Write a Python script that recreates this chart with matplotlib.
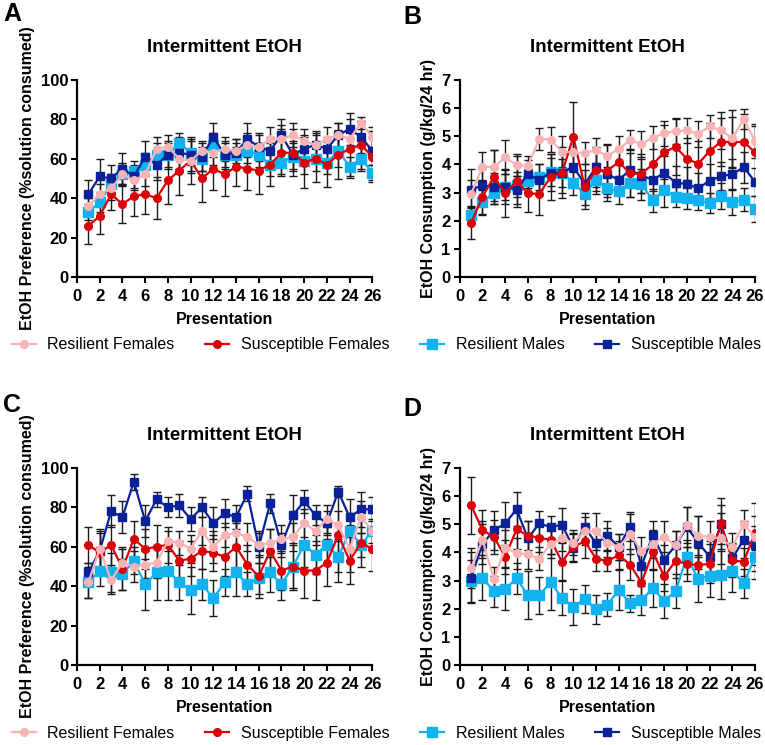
import matplotlib
matplotlib.use("Agg")
import matplotlib.pyplot as plt
from matplotlib.lines import Line2D

plt.rcParams['font.family'] = ['Liberation Sans', 'DejaVu Sans']

presentation = list(range(1, 27))
groups = ['Resilient Females', 'Susceptible Females', 'Resilient Males', 'Susceptible Males']

# Panel A - preference
a_res_f = [36, 42, 45, 52, 49, 52, 65, 66, 60, 59, 64, 63, 65, 64, 67, 66, 70, 70, 72, 69, 67, 70, 72, 70, 78, 71]
a_sus_f = [26, 31, 42, 37, 41, 42, 40, 49, 54, 59, 50, 55, 52, 56, 55, 54, 57, 63, 63, 58, 60, 57, 62, 65, 67, 61]
a_res_m = [33, 38, 47, 52, 54, 57, 62, 62, 68, 63, 60, 67, 62, 62, 64, 62, 57, 58, 61, 59, 60, 58, 64, 56, 60, 53]
a_sus_m = [42, 51, 50, 55, 51, 61, 57, 62, 63, 62, 61, 71, 62, 63, 70, 66, 64, 72, 62, 65, 67, 65, 72, 75, 71, 64]
a_res_f_err = [4, 5, 6, 6, 5, 6, 6, 6, 6, 6, 5, 6, 6, 6, 6, 6, 6, 7, 6, 6, 6, 6, 6, 6, 3, 5]
a_sus_f_err = [9, 9, 8, 9.5, 10, 10, 10.5, 12, 12.5, 12, 12, 11, 11, 10, 11, 12, 11, 12, 12, 13, 12, 11.5, 12.5, 15, 12, 13]
a_res_m_err = [4, 5, 5, 5, 5, 6, 6, 6, 5, 6, 6, 6, 6, 6, 6, 6, 6, 6, 7, 7, 6, 6, 8, 5, 6, 4]
a_sus_m_err = [7, 9, 7, 8, 6, 8, 8, 7, 8, 8, 7, 7, 7, 7, 8, 7, 7, 8, 7, 7, 7, 6, 6, 8, 8, 7]

# Panel B - consumption
b_res_f = [2.95, 3.92, 3.9, 4.25, 3.98, 3.95, 4.9, 4.88, 4.45, 4.42, 4.4, 4.5, 4.3, 4.55, 4.85, 4.72, 4.95, 5.1, 5.18, 5.2, 5.08, 5.35, 5.2, 4.92, 5.6, 4.82]
b_sus_f = [1.92, 2.85, 3.55, 2.98, 3.4, 2.97, 2.95, 3.55, 3.7, 4.97, 3.2, 3.8, 3.78, 4.08, 3.68, 3.67, 4.0, 4.43, 4.62, 4.2, 4.02, 4.47, 4.8, 4.78, 4.8, 4.42]
b_res_m = [2.22, 2.65, 3.0, 3.2, 3.28, 3.42, 3.55, 3.72, 3.7, 3.35, 2.95, 3.45, 3.15, 3.05, 3.35, 3.3, 2.72, 3.1, 2.85, 2.8, 2.73, 2.62, 2.88, 2.67, 2.75, 2.42]
b_sus_m = [3.1, 3.25, 3.2, 3.2, 3.1, 3.65, 3.45, 3.7, 3.7, 3.92, 3.3, 3.9, 3.65, 3.45, 3.8, 3.6, 3.45, 3.7, 3.35, 3.3, 3.15, 3.42, 3.58, 3.65, 3.9, 3.38]
b_res_f_err = [0.5, 0.5, 0.6, 0.6, 0.4, 0.35, 0.4, 0.45, 0.55, 0.5, 0.4, 0.45, 0.4, 0.45, 0.35, 0.45, 0.4, 0.45, 0.45, 0.45, 0.45, 0.4, 0.65, 1.0, 0.35, 0.6]
b_sus_f_err = [0.58, 0.6, 0.95, 0.85, 0.9, 0.67, 0.75, 0.8, 0.9, 1.25, 0.8, 0.75, 0.95, 0.5, 0.85, 0.7, 0.95, 0.95, 1.0, 0.75, 0.8, 1.0, 0.85, 0.9, 1.0, 0.95]
b_res_m_err = [0.3, 0.45, 0.4, 0.45, 0.45, 0.4, 0.45, 0.5, 0.5, 0.45, 0.4, 0.5, 0.45, 0.45, 0.5, 0.55, 0.4, 0.6, 0.35, 0.4, 0.35, 0.35, 0.45, 0.45, 0.4, 0.45]
b_sus_m_err = [0.75, 0.6, 0.5, 0.6, 0.5, 0.5, 0.55, 0.65, 0.7, 0.55, 0.5, 0.7, 0.7, 0.55, 0.6, 0.6, 0.55, 0.6, 0.6, 0.6, 0.55, 0.6, 0.5, 0.55, 0.55, 0.5]

# Panel C - preference
c_res_f = [42, 59, 43, 52, 50, 51, 52, 63, 62, 59, 68, 60, 66, 67, 65, 61, 62, 64, 65, 72, 68, 74, 71, 59, 75, 68]
c_sus_f = [61, 57, 61, 49, 64, 59, 60, 61, 53, 54, 58, 57, 55, 60, 51, 45, 58, 48, 50, 48, 48, 52, 66, 53, 62, 59]
c_res_m = [42, 48, 47, 46, 53, 41, 47, 48, 42, 38, 41, 34, 42, 47, 41, 44, 47, 41, 50, 61, 56, 61, 55, 68, 61, 68]
c_sus_m = [47, 58, 78, 75, 93, 73, 84, 80, 81, 74, 80, 72, 77, 75, 87, 60, 82, 61, 76, 83, 76, 72, 88, 75, 79, 79]
c_res_f_err = [8, 10, 7, 7, 8, 7, 8, 5, 6, 7, 7, 8, 6, 6, 7, 6, 7, 7, 7, 7, 7, 7, 7, 12, 8, 6]
c_sus_f_err = [9, 10, 10, 11, 9, 10, 11, 9, 10, 9, 9, 9, 10, 12, 10, 11, 11, 10, 11, 14, 15, 12, 24, 12, 12, 11]
c_res_m_err = [8, 8, 10, 8, 7, 13, 14, 15, 9, 12, 8, 9, 7, 12, 6, 8, 10, 8, 12, 11, 10, 9, 8, 9, 6, 9]
c_sus_m_err = [5, 10, 8, 8, 4, 8, 4, 5, 6, 6, 5, 8, 7, 6, 4, 8, 5, 6, 10, 6, 5, 6, 3, 9, 9, 6]

# Panel D - consumption
d_res_f = [3.45, 4.45, 3.05, 4.15, 3.98, 3.93, 3.78, 4.3, 4.5, 4.35, 4.75, 4.75, 4.35, 4.2, 4.65, 4.05, 4.3, 4.55, 4.25, 4.97, 4.6, 4.55, 4.5, 4.2, 5.0, 4.55]
d_sus_f = [5.67, 4.8, 4.55, 3.85, 4.82, 4.6, 4.52, 4.45, 3.67, 4.2, 4.4, 3.78, 3.7, 3.9, 3.57, 2.93, 4.02, 3.15, 3.7, 3.6, 3.55, 3.6, 5.03, 3.72, 3.67, 4.7]
d_res_m = [3.0, 3.1, 2.62, 2.7, 3.08, 2.48, 2.48, 2.95, 2.38, 2.07, 2.35, 1.98, 2.15, 2.67, 2.2, 2.3, 2.73, 2.28, 2.62, 3.85, 3.05, 3.18, 3.2, 3.35, 2.9, 3.85]
d_sus_m = [3.1, 4.3, 4.78, 5.03, 5.53, 4.5, 5.03, 4.9, 4.98, 4.17, 4.9, 4.32, 4.6, 4.2, 4.92, 3.52, 4.62, 3.75, 4.25, 4.9, 4.35, 3.85, 5.0, 3.8, 4.45, 4.25]
d_res_f_err = [0.7, 0.65, 0.45, 0.65, 0.55, 0.5, 0.4, 0.5, 0.45, 0.45, 0.5, 0.65, 0.5, 0.45, 0.7, 0.5, 0.5, 0.55, 0.5, 0.65, 0.7, 0.55, 0.9, 0.5, 0.5, 1.2]
d_sus_f_err = [1.0, 0.7, 0.6, 0.6, 0.7, 0.5, 0.5, 0.5, 0.65, 0.5, 0.6, 0.45, 0.35, 0.5, 0.55, 0.6, 0.6, 0.5, 0.6, 0.6, 0.6, 0.7, 0.9, 0.6, 0.5, 0.6]
d_res_m_err = [0.75, 0.8, 0.55, 0.75, 0.55, 0.85, 0.65, 1.0, 0.6, 0.65, 0.5, 0.5, 0.4, 0.7, 0.3, 0.5, 0.65, 0.6, 0.6, 0.6, 0.8, 0.75, 0.85, 0.75, 0.5, 0.8]
d_sus_m_err = [0.9, 0.7, 0.7, 0.75, 0.6, 0.6, 0.45, 0.4, 0.6, 0.5, 0.5, 0.5, 0.5, 0.45, 0.5, 0.5, 0.5, 0.5, 0.5, 0.7, 0.95, 0.55, 0.7, 0.5, 0.65, 0.7]

colors = {'Resilient Females': '#F8B3B5', 'Susceptible Females': '#DC0008',
          'Resilient Males': '#12B2F0', 'Susceptible Males': '#0A2299'}
markers = {'Resilient Females': ('o', 5.5), 'Susceptible Females': ('o', 5.5),
           'Resilient Males': ('s', 6.5), 'Susceptible Males': ('s', 5.5)}
draw_order = ['Resilient Males', 'Susceptible Males', 'Susceptible Females', 'Resilient Females']


def draw_panel(ax, data, errs, ylim, yticks, ylabel):
    for z, g in enumerate(draw_order):
        ax.errorbar(presentation, data[g], yerr=errs[g], fmt='none', ecolor='#1a1a1a',
                    elinewidth=1.0, capsize=3, capthick=1.0, zorder=2 + z * 0.1)
    for z, g in enumerate(draw_order):
        m, ms = markers[g]
        ax.plot(presentation, data[g], color=colors[g], marker=m, markersize=ms,
                linewidth=1.6, zorder=3 + z)
    ax.set_xlim(0, 26)
    ax.set_ylim(*ylim)
    ax.set_xticks(range(0, 27, 2))
    ax.set_yticks(yticks)
    for s in ['top', 'right']:
        ax.spines[s].set_visible(False)
    for s in ['left', 'bottom']:
        ax.spines[s].set_linewidth(1.6)
    ax.tick_params(width=1.5, length=4.5, labelsize=12)
    ax.tick_params(axis='x', pad=4)
    ax.tick_params(axis='y', pad=2)
    for lab in ax.get_xticklabels() + ax.get_yticklabels():
        lab.set_fontweight('bold')
    ax.set_title('Intermittent EtOH', fontsize=13.5, fontweight='bold', pad=20)
    ax.set_xlabel('Presentation', fontsize=11.5, fontweight='bold', labelpad=6)
    ax.set_ylabel(ylabel, fontsize=11.5, fontweight='bold', labelpad=4)


fig = plt.figure(figsize=(7.65, 7.45), dpi=100)
axA = fig.add_axes([0.1007, 0.628, 0.386, 0.265])
axB = fig.add_axes([0.601, 0.628, 0.386, 0.265])
axC = fig.add_axes([0.1007, 0.107, 0.386, 0.265])
axD = fig.add_axes([0.601, 0.107, 0.386, 0.265])

pref_label = 'EtOH Preference (%solution consumed)'
cons_label = 'EtOH Consumption (g/kg/24 hr)'

draw_panel(axA, dict(zip(groups, [a_res_f, a_sus_f, a_res_m, a_sus_m])),
           dict(zip(groups, [a_res_f_err, a_sus_f_err, a_res_m_err, a_sus_m_err])),
           (0, 100), range(0, 101, 20), pref_label)
draw_panel(axB, dict(zip(groups, [b_res_f, b_sus_f, b_res_m, b_sus_m])),
           dict(zip(groups, [b_res_f_err, b_sus_f_err, b_res_m_err, b_sus_m_err])),
           (0, 7), range(0, 8), cons_label)
draw_panel(axC, dict(zip(groups, [c_res_f, c_sus_f, c_res_m, c_sus_m])),
           dict(zip(groups, [c_res_f_err, c_sus_f_err, c_res_m_err, c_sus_m_err])),
           (0, 100), range(0, 101, 20), pref_label)
draw_panel(axD, dict(zip(groups, [d_res_f, d_sus_f, d_res_m, d_sus_m])),
           dict(zip(groups, [d_res_f_err, d_sus_f_err, d_res_m_err, d_sus_m_err])),
           (0, 7), range(0, 8), cons_label)

for letter, (x, y) in zip('ABCD', [(0.004, 0.997), (0.527, 0.993), (0.004, 0.472), (0.527, 0.467)]):
    fig.text(x, y, letter, fontsize=18, fontweight='bold', ha='left', va='top')

handles = [Line2D([], [], color=colors[g], marker=markers[g][0], markersize=markers[g][1],
                  linewidth=1.6) for g in groups]
for ycen in [0.537, 0.016]:
    fig.legend(handles, groups, loc='center', bbox_to_anchor=(0.505, ycen), ncol=4,
               frameon=False, fontsize=11.5, handlelength=1.5, handletextpad=0.75,
               columnspacing=1.9, borderaxespad=0, borderpad=0)

fig.savefig('out.png', dpi=100)
